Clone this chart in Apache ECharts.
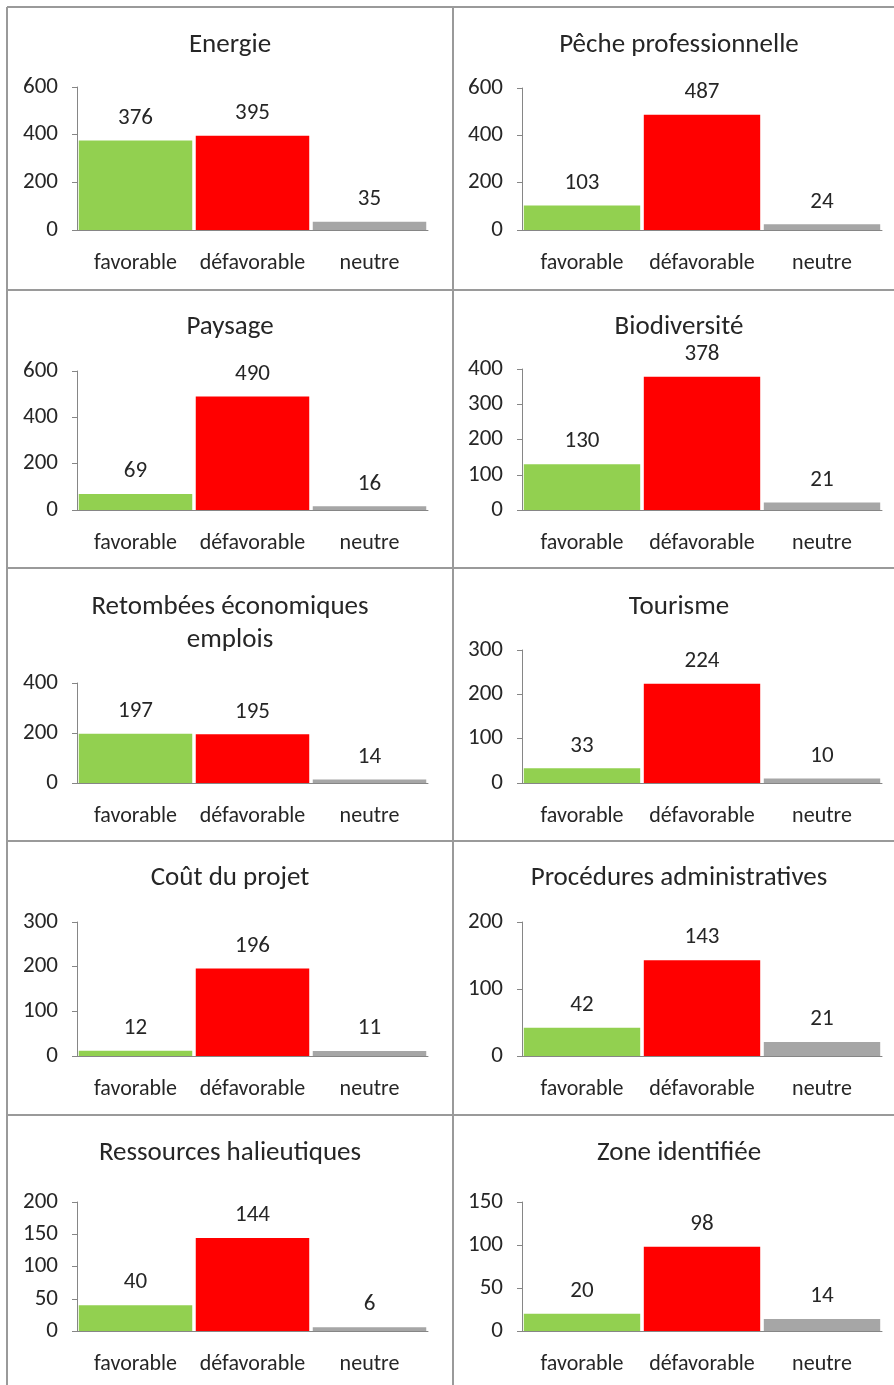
<!DOCTYPE html>
<html>
<head>
<meta charset="utf-8">
<script src="https://cdn.jsdelivr.net/npm/echarts@6/dist/echarts.min.js"></script>
<style>
html,body{margin:0;padding:0;background:#fff;}
#c{width:894px;height:1385px;}
</style>
</head>
<body>
<div id="c"></div>
<script>
const categories = ['favorable', 'défavorable', 'neutre'];
const titles = ['Energie', 'Pêche professionnelle', 'Paysage', 'Biodiversité',
  'Retombées économiques\nemplois', 'Tourisme', 'Coût du projet',
  'Procédures administratives', 'Ressources halieutiques', 'Zone identifiée'];
const favorable   = [376, 103, 69, 130, 197, 33, 12, 42, 40, 20];
const defavorable = [395, 487, 490, 378, 195, 224, 196, 143, 144, 98];
const neutre      = [35, 24, 16, 21, 14, 10, 11, 21, 6, 14];
const axisMax      = [600, 600, 600, 400, 400, 300, 300, 200, 200, 150];
const axisInterval = [200, 200, 200, 100, 200, 100, 100, 100, 50, 50];

const colors = ['#92D050', '#FF0000', '#A6A6A6'];
const FONT = 'Carlito, Lato, "Open Sans", sans-serif';
const TXT = '#262626';

// layout (pixels)
const colAxisLeft = [77, 522];
const colAxisRight = [428, 882];
const colCenter = [230, 679];
const rowTitleY = [45, 327, 607, 878, 1153];
const plotTop = [87, 88, 371, 369, 683, 650, 922, 922, 1202, 1202];
const plotZero = [230, 230, 510, 510, 783, 783, 1056, 1056, 1331, 1331];

const grids = [], xAxes = [], yAxes = [], series = [], titleComps = [];
for (let i = 0; i < 10; i++) {
  const col = i % 2, row = Math.floor(i / 2);
  grids.push({
    left: colAxisLeft[col], width: colAxisRight[col] - colAxisLeft[col],
    top: plotTop[i], height: plotZero[i] - plotTop[i], containLabel: false
  });
  xAxes.push({
    type: 'category', gridIndex: i, data: categories,
    axisLine: { lineStyle: { color: '#868686', width: 1 } },
    axisTick: { show: false },
    axisLabel: { interval: 0, color: TXT, fontFamily: FONT, fontSize: 22, margin: 22 }
  });
  yAxes.push({
    type: 'value', gridIndex: i, min: 0, max: axisMax[i], interval: axisInterval[i],
    axisLine: { show: true, lineStyle: { color: '#868686', width: 1 } },
    axisTick: { show: true, length: 5, lineStyle: { color: '#868686' } },
    splitLine: { show: false },
    axisLabel: { color: TXT, fontFamily: FONT, fontSize: 23, margin: 19 }
  });
  series.push({
    type: 'bar', xAxisIndex: i, yAxisIndex: i,
    barCategoryGap: '3%',
    data: [favorable[i], defavorable[i], neutre[i]].map((v, k) => ({
      value: v, itemStyle: { color: colors[k] }
    })),
    label: {
      show: true, position: 'top', distance: 11,
      color: TXT, fontFamily: FONT, fontSize: 23
    }
  });
  const multi = titles[i].indexOf('\n') >= 0;
  titleComps.push({
    text: titles[i], left: colCenter[col], textAlign: 'center', padding: 0,
    top: multi ? rowTitleY[row] - 16.5 : rowTitleY[row] - 14,
    textStyle: { color: TXT, fontFamily: FONT, fontSize: 27, fontWeight: 'normal', lineHeight: multi ? 33 : 28 }
  });
}

const borderColor = '#9a9a9a';
const lines = [];
lines.push({ x1: 7, y1: 7, x2: 894, y2: 7 });
lines.push({ x1: 7, y1: 7, x2: 7, y2: 1385 });
lines.push({ x1: 453, y1: 7, x2: 453, y2: 1385 });
[290, 568, 841, 1115].forEach(y => lines.push({ x1: 7, y1: y, x2: 894, y2: y }));
const graphic = lines.map(s => ({
  type: 'line', shape: s, silent: true,
  style: { stroke: borderColor, lineWidth: 2 }
}));

const chart = echarts.init(document.getElementById('c'), null, { renderer: 'canvas' });
chart.setOption({
  animation: false,
  backgroundColor: '#fff',
  title: titleComps,
  grid: grids,
  xAxis: xAxes,
  yAxis: yAxes,
  series: series,
  graphic: graphic
});
</script>
</body>
</html>
